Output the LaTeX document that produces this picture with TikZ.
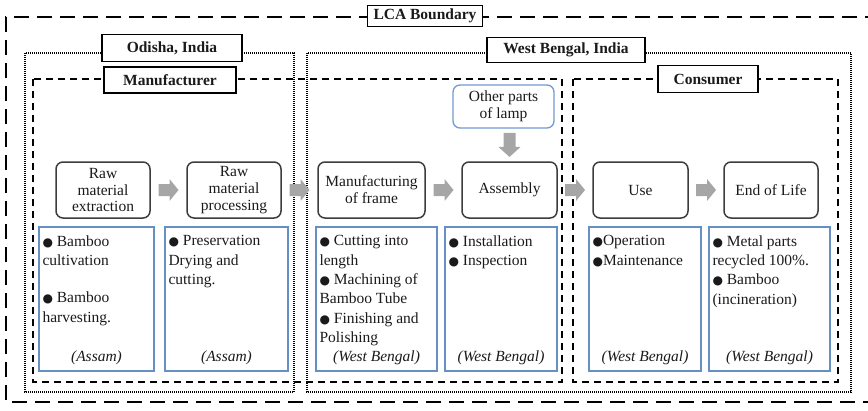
\documentclass[tikz,border=0pt]{standalone}
\usepackage{fontspec}
\setmainfont{Liberation Serif}
\newfontfamily\dejavu{DejaVu Sans}
\usetikzlibrary{calc}
\definecolor{ink}{HTML}{1A1A1A}
\definecolor{boxline}{HTML}{3C3C3C}
\definecolor{descblue}{HTML}{668FC4}
\definecolor{lampblue}{HTML}{6E9BD0}
\definecolor{arrowgray}{HTML}{A6A6A6}
\newcommand\bul{{\dejavu\fontsize{12}{12}\selectfont ●}}
% gray block arrows, centred on a coordinate
\newcommand\rightblock[1]{\fill[arrowgray] (#1) ++(-10,-6) -- ++(11,0) -- ++(0,-5) -- ++(9,11) -- ++(-9,11) -- ++(0,-5) -- ++(-11,0) -- cycle;}
\newcommand\downblock[1]{\fill[arrowgray] (#1) ++(-6,-12) -- ++(0,14) -- ++(-5,0) -- ++(11,10) -- ++(11,-10) -- ++(-5,0) -- ++(0,-14) -- cycle;}

\tikzset{
  every node/.style={text=ink, font=\fontsize{15.5}{16.8}\selectfont},
  outerline/.style={line width=2pt, dash pattern=on 15pt off 8pt},
  siteline/.style={line width=1.3pt, dash pattern=on 1pt off 1pt},
  roleline/.style={line width=1.6pt, dash pattern=on 7pt off 5pt},
  regionlabel/.style={draw=black, line width=1.6pt, fill=white, inner sep=0pt,
    font=\fontsize{15.5}{16.8}\selectfont\bfseries},
  procbox/.style={draw=boxline, line width=1.5pt, rounded corners=7pt, align=center,
    inner sep=0pt, minimum height=56pt},
  lampbox/.style={draw=lampblue, line width=1.3pt, rounded corners=7pt, align=center,
    inner sep=0pt},
  descbox/.style={draw=descblue, line width=1.3pt, inner sep=0pt, minimum height=144pt},
  desctext/.style={anchor=north west, align=left, inner sep=0pt,
    font=\fontsize{15.5}{19.3}\selectfont},
  footer/.style={anchor=base, inner sep=0pt, font=\fontsize{15.5}{16.8}\selectfont\itshape},
}

\begin{document}
\begin{tikzpicture}[x=1pt, y=-1pt]
\useasboundingbox (0,0) rectangle (868,410);
\clip (0,0) rectangle (868,410);

% system boundary (open to the right)
\draw[outerline] (880,17) -- (6,17) -- (6,402) -- (880,402);

% regional boundaries
\draw[siteline] (25,53) rectangle (294,392);
\draw[siteline] (307,53) rectangle (851,392);

% stakeholder boundaries
\draw[roleline] (33,79) rectangle (562,382);
\draw[roleline] (573,79) rectangle (838,382);

% boundary labels
\node[regionlabel, minimum width=115pt, minimum height=21pt] (lca) at (425,16) {LCA Boundary};
\node[regionlabel, minimum width=140pt, minimum height=27pt] (odisha) at (172,48) {Odisha, India};
\node[regionlabel, minimum width=158pt, minimum height=25pt] (wb) at (566,50) {West Bengal, India};
\node[regionlabel, minimum width=132pt, minimum height=26pt] (manuf) at (170,80) {Manufacturer};
\node[regionlabel, minimum width=100pt, minimum height=27pt] (cons) at (708,79) {Consumer};

% life cycle stages
\node[procbox, minimum width=94pt] (ext) at (103,190) {Raw\\material\\extraction};
\node[procbox, minimum width=94pt] (proc) at (234,190) {Raw\\material\\processing};
\node[procbox, minimum width=107pt] (frame) at (371.5,190) {Manufacturing\\of frame};
\node[procbox, minimum width=95pt] (assy) at (509.5,190) {Assembly};
\node[procbox, minimum width=95pt] (use) at (640.5,190) {Use};
\node[procbox, minimum width=94pt] (eol) at (771,190) {End of Life};
\node[lampbox, minimum width=101pt, minimum height=43pt] (parts) at (503.5,106.5) {Other parts\\of lamp};

% flow arrows
\coordinate (f1) at ($(ext.east)!0.5!(proc.west)$);
\coordinate (f2) at ($(proc.east)!0.5!(frame.west)$);
\coordinate (f3) at ($(frame.east)!0.5!(assy.west)$);
\coordinate (f4) at ($(assy.east)!0.5!(use.west)$);
\coordinate (f5) at ($(use.east)!0.5!(eol.west)$);
\coordinate (f6) at ($(assy.north)!0.5!(assy.north|-parts.south)$);
\rightblock{f1}
\rightblock{f2}
\rightblock{f3}
\rightblock{f4}
\rightblock{f5}
\downblock{f6}

% activity boxes
\node[descbox, minimum width=115pt] (d1) at (96.5,299) {};
\node[descbox, minimum width=123pt] (d2) at (226.5,299) {};
\node[descbox, minimum width=121pt] (d3) at (376.5,299) {};
\node[descbox, minimum width=112pt] (d4) at (501,299) {};
\node[descbox, minimum width=112pt] (d5) at (645,299) {};
\node[descbox, minimum width=121pt] (d6) at (769.5,299) {};

\node[desctext] (t1) at ($(d1.north west)+(4,9)$) {\bul{} Bamboo\\cultivation\\[18pt]\bul{} Bamboo\\harvesting.};
\node[desctext] (t2) at ($(d2.north west)+(4,9)$) {\bul{} Preservation\\Drying and\\cutting.};
\node[desctext] (t3) at ($(d3.north west)+(4,9)$) {\bul{} Cutting into\\length\\\bul{} Machining of\\Bamboo Tube\\\bul{} Finishing and\\Polishing};
\node[desctext] (t4) at ($(d4.north west)+(4,9)$) {\bul{} Installation\\\bul{} Inspection};
\node[desctext] (t5) at ($(d5.north west)+(4,9)$) {\bul{}Operation\\\bul{}Maintenance};
\node[desctext] (t6) at ($(d6.north west)+(4,9)$) {\bul{} Metal parts\\recycled 100\%.\\\bul{} Bamboo\\(incineration)};

\node[footer] (l1) at ($(d1.south)+(0,-10)$) {(Assam)};
\node[footer] (l2) at ($(d2.south)+(0,-10)$) {(Assam)};
\node[footer] (l3) at ($(d3.south)+(0,-10)$) {(West Bengal)};
\node[footer] (l4) at ($(d4.south)+(0,-10)$) {(West Bengal)};
\node[footer] (l5) at ($(d5.south)+(0,-10)$) {(West Bengal)};
\node[footer] (l6) at ($(d6.south)+(0,-10)$) {(West Bengal)};
\end{tikzpicture}
\end{document}
